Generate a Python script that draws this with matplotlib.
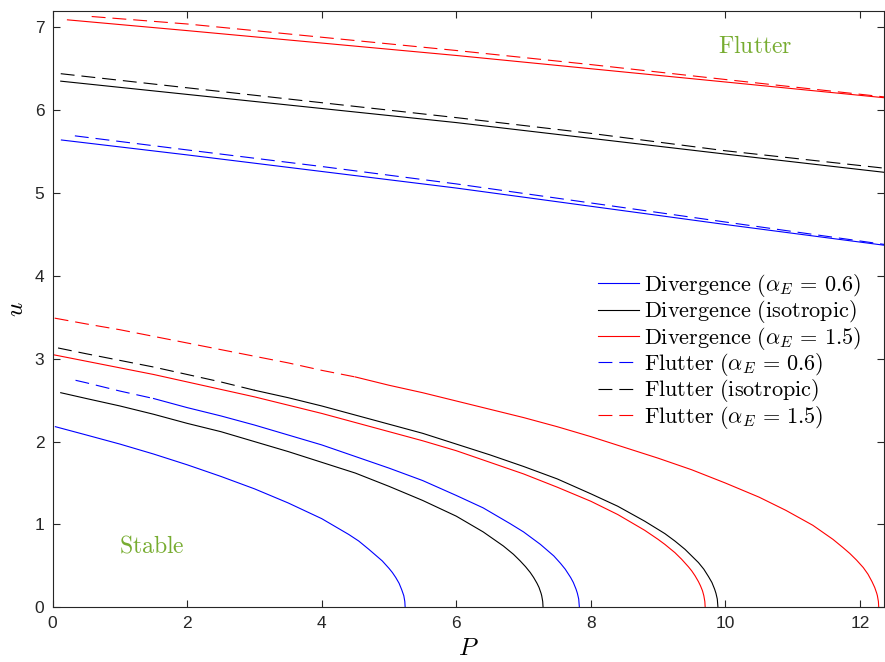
import numpy as np
import matplotlib
matplotlib.use("Agg")
import matplotlib.pyplot as plt

plt.rcParams.update({
    "mathtext.fontset": "cm",
    "font.family": "Liberation Sans",
    "lines.scale_dashes": False,
})

# ---- upper branches (divergence solid, flutter dashed) ----
div_up_blue_P = [0.13, 2, 4, 6, 8, 10, 12.36]
div_up_blue_u = [5.64, 5.46, 5.26, 5.06, 4.84, 4.62, 4.37]
div_up_black_P = [0.12, 2, 4, 6, 8, 10, 12.36]
div_up_black_u = [6.35, 6.19, 6.02, 5.85, 5.66, 5.47, 5.25]
div_up_red_P = [0.22, 2, 4, 6, 8, 10, 12.36]
div_up_red_u = [7.09, 6.96, 6.81, 6.66, 6.50, 6.34, 6.15]

flut_up_blue_P = [0.33, 2, 4, 6, 8, 10, 12.36]
flut_up_blue_u = [5.69, 5.52, 5.32, 5.11, 4.88, 4.65, 4.38]
flut_up_black_P = [0.12, 2, 4, 6, 8, 10, 12.36]
flut_up_black_u = [6.44, 6.27, 6.09, 5.91, 5.72, 5.51, 5.30]
flut_up_red_P = [0.58, 2, 4, 6, 8, 10, 12.36]
flut_up_red_u = [7.13, 7.04, 6.88, 6.72, 6.55, 6.37, 6.16]

# ---- lower divergence branches ----
div_lo_blue_P = [0.04, 0.5, 1, 1.5, 2, 2.5, 3, 3.5, 4, 4.4, 4.55, 4.7, 4.9, 5.0, 5.05,
                 5.1, 5.15, 5.19, 5.22, 5.235, 5.24]
div_lo_blue_u = [2.18, 2.08, 1.97, 1.85, 1.72, 1.58, 1.43, 1.26, 1.07, 0.88, 0.80, 0.70, 0.56, 0.47, 0.42,
                 0.36, 0.29, 0.21, 0.14, 0.07, 0.0]
div_lo_black_P = [0.12, 0.5, 1, 1.5, 2, 2.5, 3, 3.5, 4, 4.5, 5, 5.5, 6, 6.4, 6.7, 6.85, 6.95,
                  7.03, 7.1, 7.15, 7.2, 7.23, 7.26, 7.27, 7.285, 7.29]
div_lo_black_u = [2.59, 2.52, 2.43, 2.33, 2.22, 2.12, 2.00, 1.88, 1.75, 1.62, 1.46, 1.29, 1.10, 0.91, 0.74, 0.64, 0.56,
                  0.49, 0.42, 0.36, 0.29, 0.24, 0.17, 0.14, 0.07, 0.0]
div_lo_red_P = [0.0, 0.5, 1, 1.5, 2, 2.5, 3, 3.5, 4, 4.5, 5, 5.5, 6, 6.5, 7, 7.5, 8, 8.4, 8.8, 9.0,
                9.1, 9.25, 9.35, 9.45, 9.5, 9.55, 9.6, 9.63, 9.66, 9.68, 9.695, 9.7]
div_lo_red_u = [3.05, 2.97, 2.89, 2.81, 2.72, 2.63, 2.54, 2.44, 2.34, 2.23, 2.12, 2.01, 1.89, 1.75, 1.61, 1.45, 1.28, 1.12, 0.93, 0.82,
                0.76, 0.66, 0.58, 0.49, 0.44, 0.38, 0.31, 0.26, 0.20, 0.14, 0.07, 0.0]

# ---- lower flutter branches (they run into the second divergence branch) ----
flut_lo_blue_P = [0.34, 0.5, 1, 1.5, 2, 2.5, 3, 3.5, 4, 4.5, 5, 5.5, 6, 6.4, 6.8, 7.0, 7.1, 7.25,
                  7.35, 7.45, 7.55, 7.62, 7.7, 7.74, 7.78, 7.8, 7.82, 7.83]
flut_lo_blue_u = [2.74, 2.71, 2.61, 2.52, 2.41, 2.31, 2.20, 2.08, 1.96, 1.82, 1.68, 1.53, 1.35, 1.20, 1.01, 0.91, 0.85, 0.76,
                  0.69, 0.62, 0.53, 0.46, 0.36, 0.30, 0.22, 0.17, 0.10, 0.0]
flut_lo_black_P = [0.08, 0.5, 1, 1.5, 2, 2.5, 3, 3.5, 4, 4.5, 5, 5.5, 6, 6.5, 7, 7.5, 8, 8.4, 8.8, 9.1,
                   9.25, 9.4, 9.5, 9.6, 9.68, 9.75, 9.8, 9.84, 9.86, 9.88, 9.89]
flut_lo_black_u = [3.13, 3.06, 2.98, 2.90, 2.81, 2.72, 2.62, 2.53, 2.43, 2.32, 2.21, 2.10, 1.97, 1.84, 1.70, 1.55, 1.37, 1.22, 1.04, 0.89,
                   0.80, 0.70, 0.62, 0.54, 0.46, 0.37, 0.30, 0.22, 0.17, 0.10, 0.0]
flut_lo_red_P = [0.03, 0.5, 1, 1.5, 2, 2.5, 3, 3.5, 4, 4.5, 5, 5.5, 6, 6.5, 7, 7.5, 8, 8.5, 9, 9.5,
                 10, 10.5, 10.9, 11.3, 11.6, 11.75, 11.85, 11.95, 12.05, 12.12, 12.18, 12.22, 12.25, 12.26, 12.275, 12.28]
flut_lo_red_u = [3.49, 3.42, 3.35, 3.27, 3.19, 3.11, 3.03, 2.95, 2.86, 2.78, 2.68, 2.59, 2.49, 2.39, 2.29, 2.18, 2.06, 1.93, 1.80, 1.66,
                 1.50, 1.33, 1.17, 0.99, 0.82, 0.72, 0.65, 0.57, 0.48, 0.40, 0.31, 0.24, 0.17, 0.14, 0.07, 0.0]
# P where the lower flutter curve turns into the (solid) divergence curve
merge_at = {"blue": 1.5, "black": 3.0, "red": 4.5}

labels = [r"$\mathrm{Divergence}\ (\alpha_E\,=\,0.6)$",
          r"$\mathrm{Divergence}\ (\mathrm{isotropic})$",
          r"$\mathrm{Divergence}\ (\alpha_E\,=\,1.5)$",
          r"$\mathrm{Flutter}\ (\alpha_E\,=\,0.6)$",
          r"$\mathrm{Flutter}\ (\mathrm{isotropic})$",
          r"$\mathrm{Flutter}\ (\alpha_E\,=\,1.5)$"]

fig = plt.figure(figsize=(8.85, 6.62), dpi=100)
ax = fig.add_axes([0.0595, 0.0826, 0.9395, 0.9012])

lw = 0.8
dash = (10, 5)
cols = {"blue": "#0000FF", "black": "#000000", "red": "#FF0000"}

handles_div = []
handles_flut = []
for name, (dP, du), (lP, lu), (fP, fu), (gP, gu) in [
        ("blue", (div_up_blue_P, div_up_blue_u), (div_lo_blue_P, div_lo_blue_u),
         (flut_up_blue_P, flut_up_blue_u), (flut_lo_blue_P, flut_lo_blue_u)),
        ("black", (div_up_black_P, div_up_black_u), (div_lo_black_P, div_lo_black_u),
         (flut_up_black_P, flut_up_black_u), (flut_lo_black_P, flut_lo_black_u)),
        ("red", (div_up_red_P, div_up_red_u), (div_lo_red_P, div_lo_red_u),
         (flut_up_red_P, flut_up_red_u), (flut_lo_red_P, flut_lo_red_u))]:
    c = cols[name]
    h, = ax.plot(dP, du, color=c, lw=lw)
    ax.plot(lP, lu, color=c, lw=lw)
    gP = np.array(gP)
    gu = np.array(gu)
    k = np.searchsorted(gP, merge_at[name])
    ax.plot(gP[k:], gu[k:], color=c, lw=lw)
    hf, = ax.plot(fP, fu, color=c, lw=lw, ls="--", dashes=dash)
    ax.plot(gP[:k + 1], gu[:k + 1], color=c, lw=lw, ls="--", dashes=dash)
    handles_div.append(h)
    handles_flut.append(hf)

ax.set_xlim(0, 12.36)
ax.set_ylim(0, 7.2)
ax.set_xticks(np.arange(0, 13, 2))
ax.set_yticks(np.arange(0, 8, 1))
ax.tick_params(direction="in", top=True, right=True, length=5, width=0.8,
               colors="#262626", labelsize=12.5, pad=6)
for s in ax.spines.values():
    s.set_color("#262626")
    s.set_linewidth(0.8)

ax.set_xlabel(r"$P$", fontsize=18, labelpad=4)
ax.set_ylabel(r"$u$", fontsize=18, labelpad=5)

green = "#77AC30"
ax.text(1.48, 0.74, r"$\mathrm{Stable}$", color=green, fontsize=17,
        ha="center", va="center")
ax.text(10.45, 6.76, r"$\mathrm{Flutter}$", color=green, fontsize=17,
        ha="center", va="center")

leg = ax.legend(handles_div + handles_flut, labels, loc="upper left",
                bbox_to_anchor=(0.656, 0.562), frameon=False, fontsize=16,
                handlelength=1.85, handletextpad=0.2, labelspacing=-0.03,
                borderpad=0, borderaxespad=0)

fig.savefig("out.png", dpi=100)
